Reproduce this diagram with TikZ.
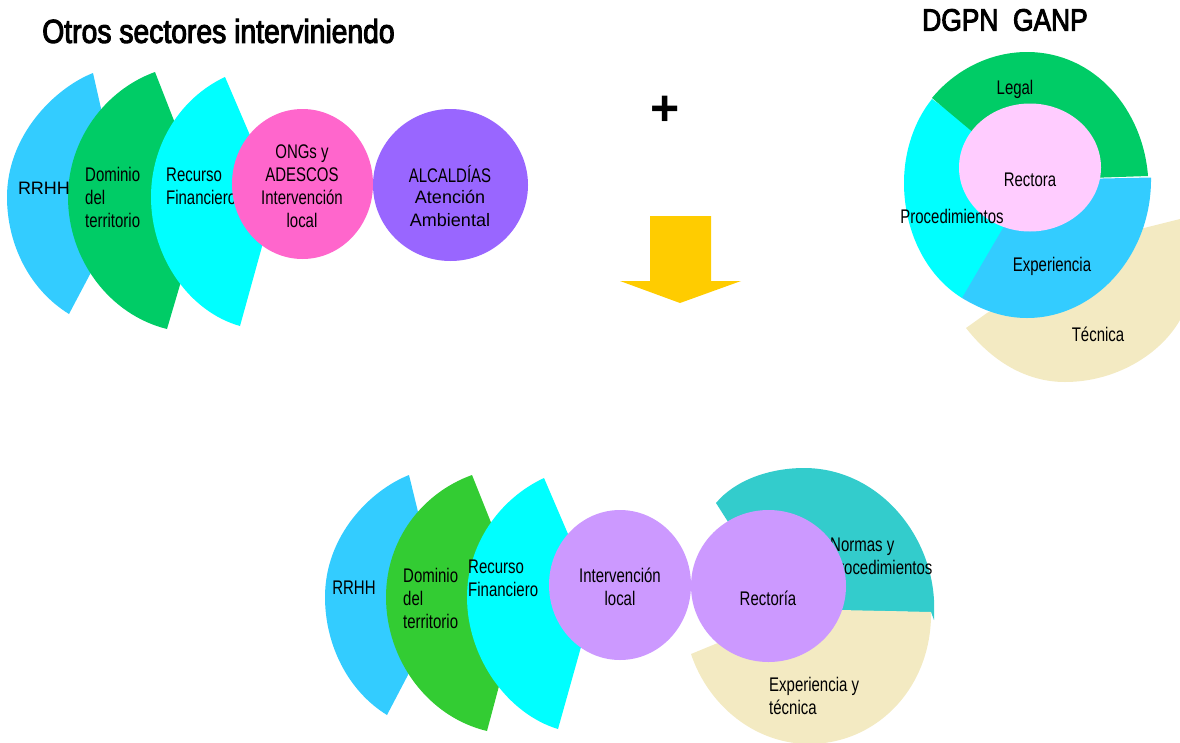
\documentclass[tikz,border=0pt]{standalone}
\usepackage{fontspec}
\setmainfont{Liberation Sans}
\newfontfamily\narrowfont[FakeStretch=0.76]{Liberation Sans}
\newfontfamily\titlefont[FakeStretch=0.85,FakeBold=3]{Liberation Sans}
\definecolor{cblue}{HTML}{33CCFF}
\definecolor{cgreen}{HTML}{00CC66}
\definecolor{cgreenb}{HTML}{33CC33}
\definecolor{ccyan}{HTML}{00FFFF}
\definecolor{cpink}{HTML}{FF66CC}
\definecolor{cpurple}{HTML}{9966FF}
\definecolor{clilac}{HTML}{CC99FF}
\definecolor{cteal}{HTML}{33CCCC}
\definecolor{ctan}{HTML}{F3EAC2}
\definecolor{clight}{HTML}{FFCCFF}
\definecolor{cyellow}{HTML}{FFCC00}
\tikzset{
  lbl/.style={inner sep=0pt,font=\narrowfont\fontsize{19.7}{23}\selectfont,align=left,text=black},
  lblc/.style={lbl,align=center},
  wide/.style={inner sep=0pt,font=\fontsize{18}{23}\selectfont,align=center,text=black},
  title/.style={inner sep=0pt,font=\titlefont\fontsize{#1}{34}\selectfont,text=black},
  disc/.style={ellipse,inner sep=0pt,minimum width=#1},
}
\usetikzlibrary{shapes.geometric}
\begin{document}
\begin{tikzpicture}[x=1pt,y=-1pt]
\useasboundingbox (0,0) rectangle (1180,742);
\begin{scope}
\clip (0,0) rectangle (1180,742);
% top left fan
\fill[cblue] (93,73) .. controls (55,88) and (7,135) .. (7,197) .. controls (7,245) and (30,290) .. (69,314) -- (124,210) -- cycle;
\fill[cgreen] (155,72) .. controls (105,90) and (68,140) .. (68,197) .. controls (68,260) and (110,315) .. (167,329) -- (205,200) -- cycle;
\node[wide,anchor=center] (rrhhA) at (44,188) {RRHH};
\node[lbl,anchor=west] (domA) at (85,197.5) {Dominio\\del\\territorio};
\fill[ccyan] (225,77) .. controls (180,98) and (151,145) .. (151,197) .. controls (151,258) and (190,312) .. (240,326) -- (276,196) -- cycle;
\node[lbl,anchor=west] (recA) at (166,186) {Recurso\\Financiero};
\node[disc=141pt,minimum height=150pt,fill=cpink] (ongs) at (302.5,184) {};
\node[lblc] (ongsl) at (302,186) {ONGs y\\ADESCOS\\Intervención\\local};
\node[disc=155pt,minimum height=152pt,fill=cpurple] (alc) at (450.5,185) {};
\node[lblc] (alcl) at (450,174) {ALCALDÍAS};
\node[wide] (alcm) at (450,208.5) {Atención\\Ambiental};
\node[title=33.3,anchor=center] (t1) at (218.5,31) {Otros sectores interviniendo};
\node[title=31,anchor=center] (t2) at (1005,20) {DGPN\ \ GANP};
% plus + arrow
\node[inner sep=0pt,font=\bfseries\fontsize{50}{50}\selectfont] (plus) at (665,111) {+};
\fill[cyellow] (650,216) -- (711,216) -- (711,281) -- (741,281) -- (680,303) -- (620,281) -- (650,281) -- cycle;
% right donut
\fill[ctan] (987,313) -- (966,328) .. controls (995,365) and (1030,382) .. (1065,382) .. controls (1115,382) and (1160,355) .. (1180,320) -- (1195,270) -- (1180,219) -- (1140,229) -- cycle;
\fill[ccyan] (932,99) .. controls (915,120) and (904,150) .. (904,183) .. controls (904,230) and (925,275) .. (962,298) -- (1040,225) -- (1030,170) -- cycle;
\fill[cgreen] (932,98) .. controls (955,70) and (990,52) .. (1027,52) .. controls (1095,52) and (1143,110) .. (1148,176) -- (1030,180) -- cycle;
\fill[cblue] (1151,177.5) .. controls (1152,255) and (1095,318) .. (1027,318) .. controls (1003,318) and (982,310) .. (962,298) -- (1003,228) -- (1030,180) -- cycle;
\node[disc=142pt,minimum height=128pt,fill=clight] (rect) at (1030,167.5) {};
\node[lblc] (rectl) at (1030,180) {Rectora};
\node[lblc] (legal) at (1015,89) {Legal};
\node[lblc] (proc) at (952,216) {Procedimientos};
\node[lblc] (exp) at (1052,266) {Experiencia};
\node[lblc] (tec) at (1098,334) {Técnica};
% bottom fan
\fill[cblue] (409,475) .. controls (371,490) and (325,535) .. (325,597) .. controls (325,645) and (348,691) .. (387,715) -- (442,610) -- cycle;
\fill[cgreenb] (472,475) .. controls (422,493) and (386,540) .. (386,597) .. controls (386,660) and (428,717) .. (487,731) -- (522,600) -- cycle;
\node[lblc] (rrhhB) at (354,588) {RRHH};
\node[lbl,anchor=west] (domB) at (403,598.5) {Dominio\\del\\territorio};
\fill[ccyan] (544,478) .. controls (499,499) and (467,545) .. (467,597) .. controls (467,658) and (508,714) .. (558,729) -- (595,597) -- cycle;
\node[lbl,anchor=west] (recB) at (468,578.5) {Recurso\\Financiero};
\node[disc=142pt,minimum height=150pt,fill=clilac] (interv) at (620,585) {};
\node[lblc] (intervl) at (620,586.5) {Intervención\\local};
% right bottom
\fill[cteal] (716,503) .. controls (735,480) and (770,468) .. (804,468) .. controls (875,468) and (930,530) .. (934,600) -- (934,620) -- (931,612) -- (840,611) -- (730,525) -- cycle;
\fill[ctan] (931,612) .. controls (932,685) and (880,742) .. (812,744) .. controls (755,745) and (708,705) .. (691,654) -- (725,640) -- (840,610) -- cycle;
\node[lbl,anchor=west] (norm) at (829,556.5) {\hspace{1pt}Normas y\\Procedimientos};
\node[disc=155pt,minimum height=152pt,fill=clilac] (rectoria) at (768.5,586) {};
\node[lblc] (rectorial) at (768,598) {Rectoría};
\node[lbl,anchor=west] (expt) at (769,695.5) {Experiencia y\\técnica};
\end{scope}
\end{tikzpicture}
\end{document}
